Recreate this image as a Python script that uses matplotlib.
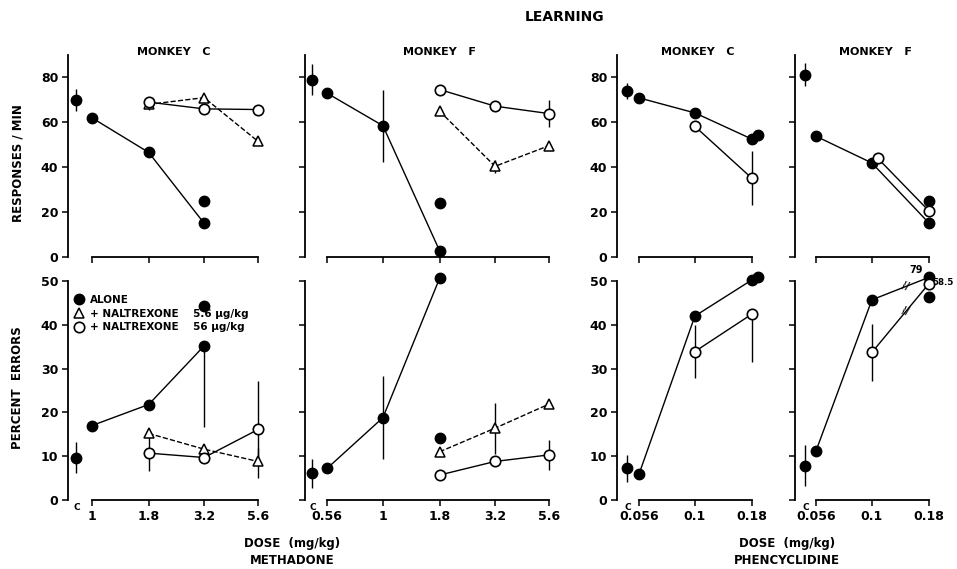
import matplotlib.pyplot as plt
from matplotlib.lines import Line2D

plt.rcParams['font.family'] = 'DejaVu Sans'
plt.rcParams['font.weight'] = 'bold'

W, H = 957, 569

# dose ticks (mg/kg)
meth_c_ticks = [1, 1.8, 3.2, 5.6]
meth_c_labels = ['1', '1.8', '3.2', '5.6']
meth_f_ticks = [0.56, 1, 1.8, 3.2, 5.6]
meth_f_labels = ['0.56', '1', '1.8', '3.2', '5.6']
pcp_ticks = [0.056, 0.1, 0.18]
pcp_labels = ['0.056', '0.1', '0.18']

# where the control ("C") point sits on each dose axis
ctrl_x = [0.85, 0.48, 0.0495, 0.05]

# ---- responses / min ----
# methadone, monkey C
mc_rate_ctrl = [70, 5]
mc_rate_alone_x = [1, 1.8, 3.2]
mc_rate_alone_y = [62, 46.6, 15]
mc_rate_alone_extra = [3.2, 25]
mc_rate_n5_x = [1.8, 3.2, 5.6]
mc_rate_n5_y = [68, 71, 51.5]
mc_rate_n5_err = [2.5, 0, 0]
mc_rate_n56_x = [1.8, 3.2, 5.6]
mc_rate_n56_y = [69, 66, 65.7]
# methadone, monkey F
mf_rate_ctrl = [79, 7]
mf_rate_alone_x = [0.56, 1, 1.8]
mf_rate_alone_y = [73, 58.5, 2.8]
mf_rate_alone_err = [0, 16, 0]
mf_rate_alone_extra = [1.8, 24]
mf_rate_n5_x = [1.8, 3.2, 5.6]
mf_rate_n5_y = [65, 40.4, 49.6]
mf_rate_n5_err = [0, 3, 0]
mf_rate_n56_x = [1.8, 3.2, 5.6]
mf_rate_n56_y = [74.6, 67.2, 63.9]
mf_rate_n56_err = [0, 0, 6]
# phencyclidine, monkey C
pc_rate_ctrl = [73.9, 3.5]
pc_rate_alone_x = [0.056, 0.1, 0.18]
pc_rate_alone_y = [70.9, 64.2, 52.6]
pc_rate_alone_extra = [0.1915, 54.5]
pc_rate_n56_x = [0.1, 0.18]
pc_rate_n56_y = [58.2, 35.2]
pc_rate_n56_err = [0, 12]
# phencyclidine, monkey F
pf_rate_ctrl = [81.3, 5]
pf_rate_alone_x = [0.056, 0.1, 0.18]
pf_rate_alone_y = [53.8, 41.9, 15.3]
pf_rate_alone_extra = [0.18, 25]
pf_rate_n56_x = [0.106, 0.18]
pf_rate_n56_y = [44.1, 20.7]

# ---- percent errors ----
mc_err_ctrl = [9.7, 3.5]
mc_err_alone_x = [1, 1.8, 3.2]
mc_err_alone_y = [17, 21.8, 35.2]
mc_err_alone_lo = [0, 1, 18.5]
mc_err_alone_hi = [0, 1, 0]
mc_err_alone_extra = [3.2, 44.4]
mc_err_n5_x = [1.8, 3.2, 5.6]
mc_err_n5_y = [15.2, 11.6, 8.8]
mc_err_n5_lo = [0, 0, 0]
mc_err_n5_hi = [0, 0, 3]
mc_err_n56_x = [1.8, 3.2, 5.6]
mc_err_n56_y = [10.7, 9.7, 16.1]
mc_err_n56_err = [4, 0, 11]

mf_err_ctrl = [6.1, 3.3]
mf_err_alone_x = [0.56, 1, 1.8]
mf_err_alone_y = [7.2, 18.8, 50.6]
mf_err_alone_err = [0, 9.5, 0]
mf_err_alone_extra = [1.8, 14.1]
mf_err_n5_x = [1.8, 3.2, 5.6]
mf_err_n5_y = [11, 16.4, 21.9]
mf_err_n5_err = [0, 5.8, 0]
mf_err_n56_x = [1.8, 3.2, 5.6]
mf_err_n56_y = [5.7, 8.8, 10.3]
mf_err_n56_err = [0, 0, 3.5]

pc_err_ctrl = [7.2, 3]
pc_err_alone_x = [0.056, 0.1, 0.18]
pc_err_alone_y = [5.9, 42, 50.2]
pc_err_alone_extra = [0.1915, 51]
pc_err_n56_x = [0.1, 0.18]
pc_err_n56_y = [33.9, 42.4]
pc_err_n56_lo = [6, 11]
pc_err_n56_hi = [6, 0]

pf_err_ctrl = [7.8, 4.7]
pf_err_alone_x = [0.056, 0.1, 0.18]
pf_err_alone_y = [11.2, 45.7, 50.8]
pf_err_alone_extra = [0.18, 46.4]
pf_err_n56_x = [0.1, 0.18]
pf_err_n56_y = [33.7, 49.3]
pf_err_n56_err = [6.5, 0]
pf_true_values = ['79', '58.5']

STY = {
    'alone': dict(marker='o', mfc='black', mec='black', ms=7.5, ls='-'),
    'n5': dict(marker='^', mfc='white', mec='black', ms=7, mew=1.1, ls='--'),
    'n56': dict(marker='o', mfc='white', mec='black', ms=7.5, mew=1.2, ls='-'),
}


def series(ax, x, y, kind, lo=None, hi=None, line=True):
    if lo is not None:
        if hi is None:
            hi = lo
        ax.errorbar(x, y, yerr=[lo, hi], fmt='none', ecolor='black',
                    elinewidth=1, capsize=0, zorder=2, clip_on=False)
    st = dict(STY[kind])
    if not line:
        st['ls'] = 'none'
    ax.plot(x, y, color='black', lw=1, zorder=3, clip_on=False, **st)


def ctrl(ax, i, c):
    ax.errorbar([ctrl_x[i]], [c[0]], yerr=[[c[1]], [c[1]]], fmt='o',
                color='black', ms=7.5, elinewidth=1, capsize=0,
                zorder=3, clip_on=False)


def make_axes(left, top, right, bottom, ref_dose, ref_px, ticks, ylim,
              yticks, xlabels, ylabels):
    ax = fig.add_axes([left / W, 1 - bottom / H, (right - left) / W,
                       (bottom - top) / H])
    ax.set_xscale('log')
    ax.set_xlim(ref_dose * 10 ** ((left - ref_px) / 222),
                ref_dose * 10 ** ((right - ref_px) / 222))
    ax.set_ylim(*ylim)
    for s in ['top', 'right']:
        ax.spines[s].set_visible(False)
    for s in ['left', 'bottom']:
        ax.spines[s].set_linewidth(1.3)
    ax.spines['bottom'].set_bounds(ticks[0], ticks[-1])
    ax.minorticks_off()
    ax.set_xticks(ticks)
    ax.set_xticklabels(xlabels if xlabels else [])
    ax.set_yticks(yticks)
    ax.set_yticklabels([str(v) for v in yticks] if ylabels else [])
    ax.tick_params(direction='out', length=4, width=1.1, labelsize=9,
                   pad=3)
    ax.patch.set_alpha(0)
    return ax


fig = plt.figure(figsize=(W / 100, H / 100), dpi=100)

top_y = (55, 257)
bot_y = (281, 500)
cols = [
    (68, 270, 1, 92, meth_c_ticks, meth_c_labels, True),
    (305, 562, 0.56, 327, meth_f_ticks, meth_f_labels, False),
    (617, 765, 0.056, 639, pcp_ticks, pcp_labels, True),
    (795, 940, 0.056, 816, pcp_ticks, pcp_labels, False),
]
top_axes, bot_axes = [], []
for (l, r, rd, rp, tk, tl, yl) in cols:
    top_axes.append(make_axes(l, top_y[0], r, top_y[1], rd, rp, tk,
                              (0, 90), [0, 20, 40, 60, 80], None, yl))
    bot_axes.append(make_axes(l, bot_y[0], r, bot_y[1], rd, rp, tk,
                              (0, 50), [0, 10, 20, 30, 40, 50], tl, yl))

# responses / min
a = top_axes[0]
ctrl(a, 0, mc_rate_ctrl)
series(a, mc_rate_alone_x, mc_rate_alone_y, 'alone')
series(a, [mc_rate_alone_extra[0]], [mc_rate_alone_extra[1]], 'alone', line=False)
series(a, mc_rate_n5_x, mc_rate_n5_y, 'n5', mc_rate_n5_err)
series(a, mc_rate_n56_x, mc_rate_n56_y, 'n56')

a = top_axes[1]
ctrl(a, 1, mf_rate_ctrl)
series(a, mf_rate_alone_x, mf_rate_alone_y, 'alone', mf_rate_alone_err)
series(a, [mf_rate_alone_extra[0]], [mf_rate_alone_extra[1]], 'alone', line=False)
series(a, mf_rate_n5_x, mf_rate_n5_y, 'n5', mf_rate_n5_err)
series(a, mf_rate_n56_x, mf_rate_n56_y, 'n56', mf_rate_n56_err)

a = top_axes[2]
ctrl(a, 2, pc_rate_ctrl)
series(a, pc_rate_alone_x, pc_rate_alone_y, 'alone')
series(a, [pc_rate_alone_extra[0]], [pc_rate_alone_extra[1]], 'alone', line=False)
series(a, pc_rate_n56_x, pc_rate_n56_y, 'n56', pc_rate_n56_err)

a = top_axes[3]
ctrl(a, 3, pf_rate_ctrl)
series(a, pf_rate_alone_x, pf_rate_alone_y, 'alone')
series(a, [pf_rate_alone_extra[0]], [pf_rate_alone_extra[1]], 'alone', line=False)
series(a, pf_rate_n56_x, pf_rate_n56_y, 'n56')

# percent errors
a = bot_axes[0]
ctrl(a, 0, mc_err_ctrl)
series(a, mc_err_alone_x, mc_err_alone_y, 'alone', mc_err_alone_lo, mc_err_alone_hi)
series(a, [mc_err_alone_extra[0]], [mc_err_alone_extra[1]], 'alone', line=False)
series(a, mc_err_n5_x, mc_err_n5_y, 'n5', mc_err_n5_lo, mc_err_n5_hi)
series(a, mc_err_n56_x, mc_err_n56_y, 'n56', mc_err_n56_err)

a = bot_axes[1]
ctrl(a, 1, mf_err_ctrl)
series(a, mf_err_alone_x, mf_err_alone_y, 'alone', mf_err_alone_err)
series(a, [mf_err_alone_extra[0]], [mf_err_alone_extra[1]], 'alone', line=False)
series(a, mf_err_n5_x, mf_err_n5_y, 'n5', mf_err_n5_err)
series(a, mf_err_n56_x, mf_err_n56_y, 'n56', mf_err_n56_err)

a = bot_axes[2]
ctrl(a, 2, pc_err_ctrl)
series(a, pc_err_alone_x, pc_err_alone_y, 'alone')
series(a, [pc_err_alone_extra[0]], [pc_err_alone_extra[1]], 'alone', line=False)
series(a, pc_err_n56_x, pc_err_n56_y, 'n56', pc_err_n56_lo, pc_err_n56_hi)

a = bot_axes[3]
ctrl(a, 3, pf_err_ctrl)
series(a, pf_err_alone_x, pf_err_alone_y, 'alone')
series(a, [pf_err_alone_extra[0]], [pf_err_alone_extra[1]], 'alone', line=False)
series(a, pf_err_n56_x, pf_err_n56_y, 'n56', pf_err_n56_err)
# axis breaks on the last segments, and the real values
for xs, ys in [(pf_err_alone_x[1:], pf_err_alone_y[1:]),
               (pf_err_n56_x, pf_err_n56_y)]:
    xm = (xs[0] * xs[1]) ** 0.5 * 1.06
    ym = ys[0] + (ys[1] - ys[0]) * 0.6
    a.text(xm, ym, '//', ha='center', va='center', fontsize=7,
           rotation=-15, zorder=4)
a.annotate(pf_true_values[0], (pf_err_alone_x[-1], pf_err_alone_y[-1]),
           xytext=(-9, 2), textcoords='offset points', fontsize=7,
           ha='center', va='bottom', annotation_clip=False)
a.annotate(pf_true_values[1], (pf_err_n56_x[-1], pf_err_n56_y[-1]),
           xytext=(3, 1), textcoords='offset points', fontsize=6.3,
           ha='left', va='center', annotation_clip=False, zorder=5)

for i, a in enumerate(bot_axes):
    a.text(ctrl_x[i] * 1.01, -0.6, 'C', ha='center', va='top', fontsize=6.5)

# legend
handles = [Line2D([], [], color='black', ls='none', **{k: v for k, v in STY[k].items() if k != 'ls'})
           for k in ['alone', 'n5', 'n56']]
bot_axes[0].legend(handles,
                   ['ALONE', '+ NALTREXONE    5.6 \u00b5g/kg',
                    '+ NALTREXONE    56 \u00b5g/kg'],
                   loc='upper left', bbox_to_anchor=(74 / W, 1 - 295 / H),
                   bbox_transform=fig.transFigure, frameon=False,
                   handlelength=1, handletextpad=0.5, labelspacing=0.35,
                   borderpad=0, borderaxespad=0, prop={'size': 7.5, 'weight': 'bold'})

fig.text(565 / W, 1 - 17 / H, 'LEARNING', ha='center', va='center', fontsize=10)
for x, t in [(174, 'MONKEY   C'), (439, 'MONKEY   F'), (698, 'MONKEY   C'), (875, 'MONKEY   F')]:
    fig.text(x / W, 1 - 52 / H, t, ha='center', va='center', fontsize=8)
fig.text(18 / W, 1 - 163 / H, 'RESPONSES / MIN', rotation=90, ha='center',
         va='center', fontsize=8.5)
fig.text(18 / W, 1 - 388 / H, 'PERCENT  ERRORS', rotation=90, ha='center',
         va='center', fontsize=8.5)
for x, drug in [(292, 'METHADONE'), (787, 'PHENCYCLIDINE')]:
    fig.text(x / W, 1 - 543 / H, 'DOSE  (mg/kg)', ha='center', va='center', fontsize=8.5)
    fig.text(x / W, 1 - 561 / H, drug, ha='center', va='center', fontsize=8.5)

fig.savefig('out.png', dpi=100)
